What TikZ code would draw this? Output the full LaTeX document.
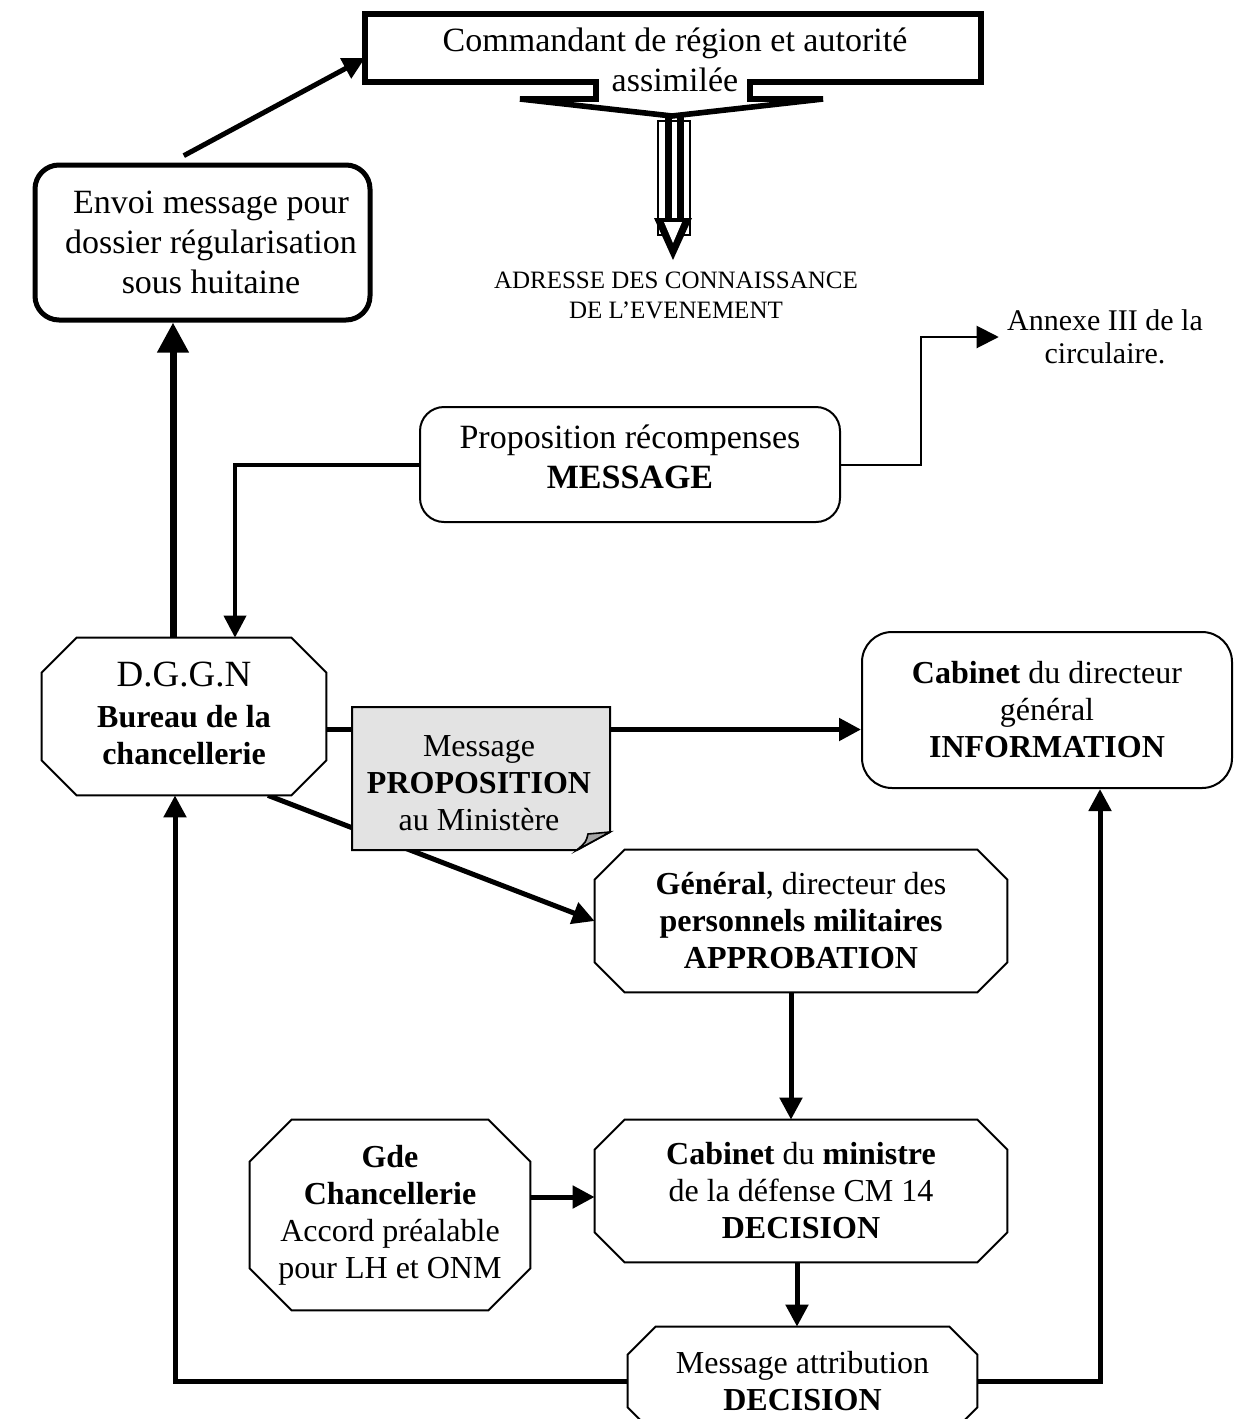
\documentclass[tikz,border=0pt]{standalone}
\usepackage{fontspec}
\setmainfont{Liberation Serif}
\usetikzlibrary{arrows.meta,calc}
\newcommand\fsbig{\fontsize{17}{20}\selectfont}
\newcommand\fsmid{\fontsize{16}{18.5}\selectfont}
\newcommand\fsann{\fontsize{15}{16.5}\selectfont}
\newcommand\fssmall{\fontsize{12.5}{15}\selectfont}
\newcommand\fsdg{\fontsize{18.5}{18.5}\selectfont}
\newcommand\octshape[2]{\draw[octline] ($(#1.north west)+(#2,0)$) -- ($(#1.north east)+(-#2,0)$) -- ($(#1.north east)+(0,#2)$) -- ($(#1.south east)+(0,-#2)$) -- ($(#1.south east)+(-#2,0)$) -- ($(#1.south west)+(#2,0)$) -- ($(#1.south west)+(0,-#2)$) -- ($(#1.north west)+(0,#2)$) -- cycle;}
\tikzset{
  txt/.style={align=center, inner sep=0pt},
  octnode/.style={txt, font=\fsmid},
  octline/.style={line width=1pt, line join=miter, fill=white},
  conn/.style={line width=2.5pt, -{Triangle[length=11pt,width=11pt]}},
  thinconn/.style={line width=1pt, -{Triangle[length=11pt,width=11pt]}},
  bigconn/.style={line width=3.5pt, -{Triangle[length=15pt,width=15pt]}},
}
\begin{document}
\begin{tikzpicture}[x=0.5pt, y=-0.5pt]
\clip (0,0) rectangle (1239,1419);
\fill[white] (0,0) rectangle (1239,1419);

% top box with arrow
\draw[line width=2.8pt, line join=miter, fill=white] (365,14) -- (981,14) -- (981,82) -- (750,82) -- (750,99) -- (823,99) -- (672,116) -- (520,99) -- (596,99) -- (596,82) -- (365,82) -- cycle;
\node[txt, font=\fsbig] (cmd) at (675,60) {Commandant de région et autorité\\assimilée};
\coordinate (cmdW) at (365,58);

% hollow arrow
\draw[line width=0.6pt] (658,121) rectangle (690,235);
\fill (665,116) rectangle (672,222);
\fill (677,116) rectangle (684,222);
\fill (654,218) -- (692,218) -- (673,260) -- cycle;
\fill[white] (664,222) -- (682,222) -- (673,243) -- cycle;
\node[txt, font=\fssmall] (adr) at (676,295) {ADRESSE DES CONNAISSANCE\\DE L’EVENEMENT};

% nodes
\node[draw, line width=2.5pt, rounded corners=12pt, minimum width=167.5pt, minimum height=77.5pt] (envoi) at (202.5,242.5) {};
\node[txt, font=\fsbig] (envoitxt) at (211,242) {Envoi message pour\\dossier régularisation\\sous huitaine};
\node[draw, line width=1pt, rounded corners=12pt, minimum width=210pt, minimum height=57.5pt] (prop) at (630,464.5) {};
\node[txt, font=\fsbig] (proptxt) at (630,457) {Proposition récompenses\\\textbf{MESSAGE}};
\node[txt, font=\fsann] (annexe) at (1105,337) {Annexe III de la\\circulaire.};
\node[octnode, minimum width=142pt, minimum height=78.5pt] (dggn) at (184,716.5) {};
\node[txt, font=\fsmid, draw, line width=1pt, rounded corners=15pt, minimum width=185pt, minimum height=78pt] (cabdg) at (1047,710) {\textbf{Cabinet} du directeur\\général\\\textbf{INFORMATION}};
\node[octnode, minimum width=206pt, minimum height=71pt] (gen) at (801,921) {};
\node[octnode, minimum width=140pt, minimum height=95pt] (gde) at (390,1215) {};
\node[octnode, minimum width=206pt, minimum height=71pt] (cm) at (801,1191) {};
\node[octnode, minimum width=174.5pt, minimum height=54pt] (attr) at (802.5,1381) {};

% connectors
\draw[conn, shorten <=3pt] ($(envoi.north)+(-24,-4)$) -- (cmdW);
\coordinate (p1) at ($(dggn.north)+(-11,0)$);
\draw[bigconn] (p1) -- (p1 |- envoi.south);
\coordinate (p2) at ($(dggn.north)+(51,0)$);
\draw[line width=2pt, -{Triangle[length=11pt,width=11pt]}] (prop.west) -| (p2);
\draw[thinconn] (prop.east) -- ++(80,0) |- ($(annexe.west)+(-8,0)$);
\coordinate (d1) at ($(dggn.east)+(0,13)$);
\draw[conn] (d1) -- (d1 -| cabdg.west);
\draw[conn] ($(dggn.south)+(84,0)$) -- (gen.west);
\coordinate (g2) at ($(gen.south)+(-10,0)$);
\draw[conn] (g2) -- (g2 |- cm.north);
\coordinate (g1) at ($(gde.east)+(0,-18)$);
\draw[conn] (g1) -- (g1 -| cm.west);
\coordinate (c2) at ($(cm.south)+(-4,0)$);
\draw[conn] (c2) -- (c2 |- attr.north);
\draw[conn] (attr.west) -| ($(dggn.south)+(-9,0)$);
\draw[conn] (attr.east) -| ($(cabdg.south)+(53,0)$);

% octagon outlines and texts
\octshape{dggn}{35}
\octshape{gen}{30}
\octshape{gde}{42}
\octshape{cm}{30}
\octshape{attr}{28}
\node[octnode] (dggntxt) at (184,713) {{\fsdg D.G.G.N}\\[2pt]\textbf{Bureau de la}\\\textbf{chancellerie}};
\node[octnode] (gentxt) at (gen) {\textbf{Général}, directeur des\\\textbf{personnels militaires}\\\textbf{APPROBATION}};
\node[octnode] (gdetxt) at (gde) {\textbf{Gde}\\\textbf{Chancellerie}\\Accord préalable\\pour LH et ONM};
\node[octnode] (cmtxt) at (cm) {\textbf{Cabinet} du \textbf{ministre}\\de la défense CM 14\\\textbf{DECISION}};
\node[octnode] (attrtxt) at (attr) {Message attribution\\\textbf{DECISION}};

% note
\coordinate (nNW) at (352,707);
\coordinate (nSE) at (610,850);
\filldraw[fill=black!11, line width=1pt, line join=miter] (nNW) -- (nNW -| nSE) -- ($(nSE)+(0,-18)$) -- ($(nSE)+(-33,0)$) -- (nNW |- nSE) -- cycle;
\filldraw[fill=black!35, line width=0.8pt] ($(nSE)+(-33,0)$) .. controls ($(nSE)+(-24,-8)$) .. ($(nSE)+(-22,-16)$) -- ($(nSE)+(0,-18)$) -- cycle;
\node[txt, font=\fsmid] (note) at (479,783) {Message\\\textbf{PROPOSITION}\\au Ministère};
\end{tikzpicture}
\end{document}
